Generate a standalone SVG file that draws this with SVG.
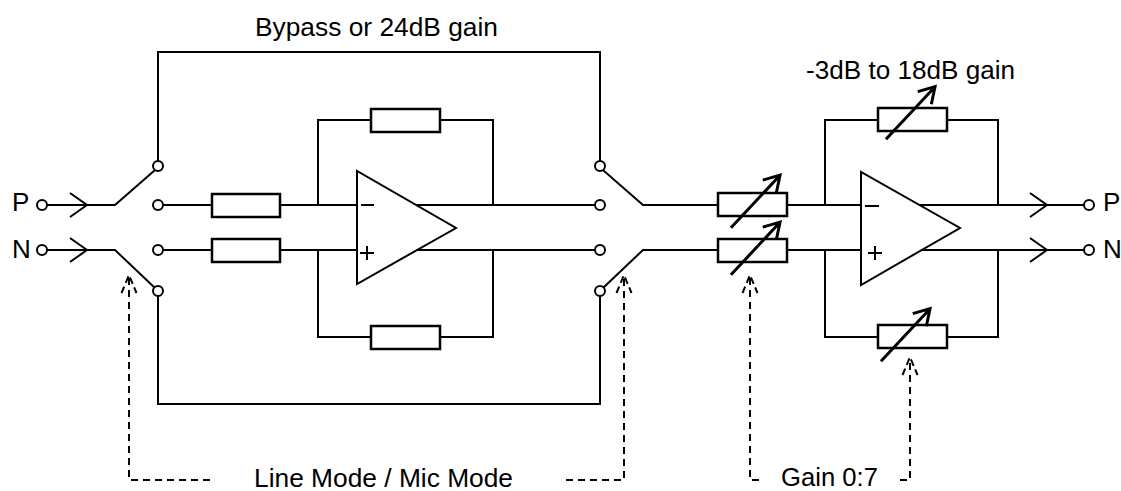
<svg xmlns="http://www.w3.org/2000/svg" xmlns:xlink="http://www.w3.org/1999/xlink" width="1121" height="491" viewBox="0 0 1121 491">
<style>
.w{fill:none;stroke:#000;stroke-width:2;stroke-linecap:square}
.r{fill:#fff;stroke:#000;stroke-width:2.5}
.c{fill:#fff;stroke:#000;stroke-width:2}
.oa{fill:#fff;stroke:#000;stroke-width:2;stroke-linejoin:miter}
.d{fill:none;stroke:#000;stroke-width:2;stroke-dasharray:7,5}
.t{font-family:"Liberation Sans",Arial,sans-serif;font-size:26px;fill:#000}
</style>
<defs>
<g id="va"><path d="M-36,0 H36 M20.6,-9.3 L36,0 L20.6,9.3" fill="none" stroke="#000" stroke-width="3"/></g>
<path id="chev" d="M-17,-12 L0,0 L-17,12" fill="none" stroke="#000" stroke-width="2"/>
<path id="darr" d="M-7.5,18 L0,0 L7.5,18" fill="none" stroke="#000" stroke-width="2" stroke-dasharray="7,4"/>
</defs>
<rect width="1121" height="491" fill="#fff"/>

<g id="connectors">
<path class="w" d="M47,205 H115 L154,171"/>
<path class="w" d="M47,250 H115 L154,287"/>
<use href="#chev" x="87" y="205"/>
<use href="#chev" x="87" y="250"/>
<path class="w" d="M158,160 V52 H600 V160"/>
<path class="w" d="M158,297 V404 H600 V297"/>
<path class="w" d="M163,205 H357"/>
<path class="w" d="M163,250 H357"/>
<path class="w" d="M318,205 V120 H493 V205"/>
<path class="w" d="M318,250 V337 H493 V250"/>
<path class="w" d="M416,205 H595"/>
<path class="w" d="M417,250 H595"/>
<path class="w" d="M604,171 L643,205 H861"/>
<path class="w" d="M604,287 L643,250 H861"/>
<path class="w" d="M825,205 V120 H998 V205"/>
<path class="w" d="M825,250 V337 H998 V250"/>
<path class="w" d="M919,205 H1084"/>
<path class="w" d="M919,250 H1084"/>
<use href="#chev" x="1047" y="205"/>
<use href="#chev" x="1047" y="250"/>
<path class="d" d="M129,278 V480 H212"/>
<path class="d" d="M566,480 H624 V278"/>
<path class="d" d="M750,278 V480 H760"/>
<path class="d" d="M900,480 H910 V360"/>
<use href="#darr" x="129" y="275"/>
<use href="#darr" x="624" y="275"/>
<use href="#darr" x="750" y="275"/>
<use href="#darr" x="910" y="357"/>
</g>

<g id="in-P"><circle class="c" cx="42" cy="205" r="5"/><text class="t" x="12" y="211">P</text></g>
<g id="in-N"><circle class="c" cx="42" cy="250" r="5"/><text class="t" x="12" y="258">N</text></g>

<g id="switch-left">
<circle class="c" cx="158" cy="166" r="5"/>
<circle class="c" cx="158" cy="205" r="5"/>
<circle class="c" cx="158" cy="250" r="5"/>
<circle class="c" cx="158" cy="291" r="5"/>
</g>

<g id="r-in-P"><rect class="r" x="212" y="194" width="68" height="23"/></g>
<g id="r-in-N"><rect class="r" x="212" y="239" width="68" height="23"/></g>
<g id="r-fb1-top"><rect class="r" x="371" y="109" width="69" height="23"/></g>
<g id="r-fb1-bot"><rect class="r" x="371" y="326" width="69" height="23"/></g>

<g id="opamp1">
<polygon class="oa" points="357,171 357,284 456,228"/>
<path class="w" d="M362,205 H373 M361,253 H373 M367,247 V259" stroke-linecap="butt"/>
</g>

<g id="switch-right">
<circle class="c" cx="600" cy="166" r="5"/>
<circle class="c" cx="600" cy="205" r="5"/>
<circle class="c" cx="600" cy="250" r="5"/>
<circle class="c" cx="600" cy="291" r="5"/>
</g>

<g id="vr-in-P"><rect class="r" x="718" y="193" width="69" height="23"/><use href="#va" transform="translate(755.5,201.5) rotate(-47)"/></g>
<g id="vr-in-N"><rect class="r" x="718" y="239" width="69" height="23"/><use href="#va" transform="translate(755.5,248.5) rotate(-47)"/></g>
<g id="vr-fb2-top"><rect class="r" x="878" y="108" width="69" height="23"/><use href="#va" transform="translate(910.5,113) rotate(-47)"/></g>
<g id="vr-fb2-bot"><rect class="r" x="878" y="325" width="69" height="23"/><use href="#va" transform="translate(905.5,335) rotate(-47)"/></g>

<g id="opamp2">
<polygon class="oa" points="861,172 861,285 960,228"/>
<path class="w" d="M866,206 H878 M869,253 H881 M875,247 V259" stroke-linecap="butt"/>
</g>

<g id="out-P"><circle class="c" cx="1089" cy="205" r="5"/><text class="t" x="1103" y="211">P</text></g>
<g id="out-N"><circle class="c" cx="1089" cy="250" r="5"/><text class="t" x="1103" y="258">N</text></g>

<g id="labels">
<text class="t" x="255" y="36" textLength="243" lengthAdjust="spacingAndGlyphs">Bypass or 24dB gain</text>
<text class="t" x="806" y="79" textLength="209" lengthAdjust="spacingAndGlyphs">-3dB to 18dB gain</text>
<text class="t" x="254" y="487" textLength="259" lengthAdjust="spacingAndGlyphs">Line Mode / Mic Mode</text>
<text class="t" x="781" y="486" textLength="97" lengthAdjust="spacingAndGlyphs">Gain 0:7</text>
</g>
</svg>
